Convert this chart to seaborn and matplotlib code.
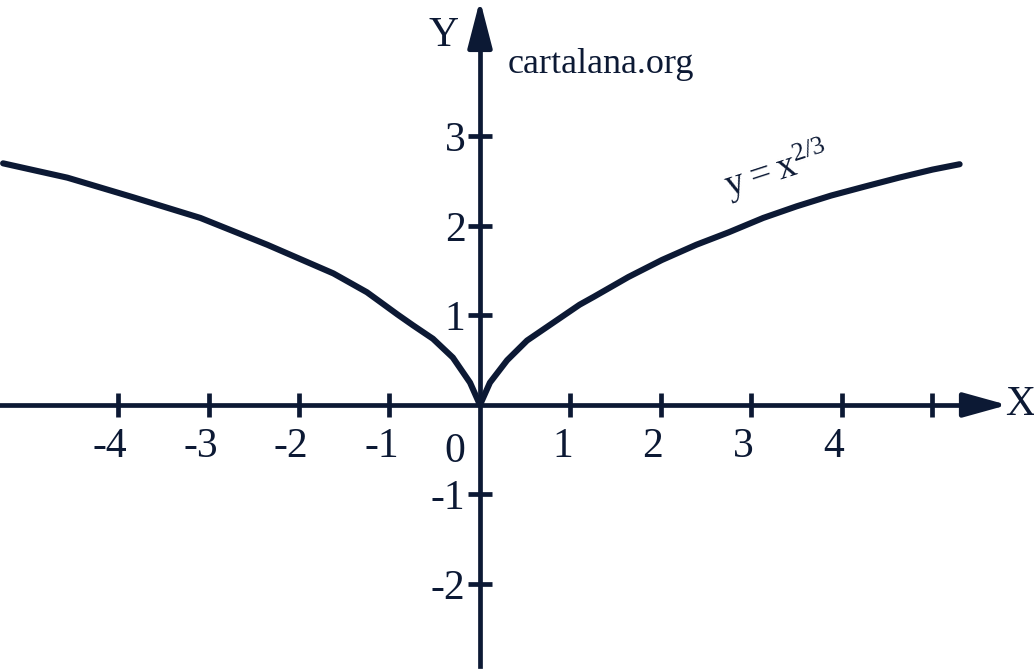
import matplotlib
matplotlib.use('Agg')
import matplotlib.pyplot as plt
import matplotlib.transforms as mtransforms
import seaborn as sns
import pandas as pd

# curve
curve_x = [-5.27, -4.56, -3.83, -3.09, -2.35, -1.62, -1.25, -1.10, -0.91, -0.74, -0.52,
           -0.30, -0.11, 0.0, 0.11, 0.30, 0.52, 0.81, 1.10, 1.26, 1.64, 2.01, 2.39, 2.75,
           3.13, 3.50, 3.88, 4.25, 4.63, 5.0, 5.30]
curve_y = [2.70, 2.54, 2.32, 2.09, 1.79, 1.47, 1.26, 1.15, 1.01, 0.89, 0.74,
           0.53, 0.25, 0.0, 0.25, 0.50, 0.72, 0.92, 1.12, 1.21, 1.43, 1.62, 1.79, 1.93,
           2.09, 2.22, 2.34, 2.44, 2.54, 2.63, 2.69]

x_ticks = [-4, -3, -2, -1, 1, 2, 3, 4, 5]
x_labels = ['-4', '-3', '-2', '-1', '1', '2', '3', '4', '']
y_ticks = [-2, -1, 1, 2, 3]
y_labels = ['-2', '-1', '1', '2', '3']

df = pd.DataFrame({'x': curve_x, 'y': curve_y})

sns.set_style('white')
plt.rcParams['font.family'] = ['Liberation Serif', 'DejaVu Serif']
plt.rcParams['mathtext.fontset'] = 'custom'
plt.rcParams['mathtext.rm'] = 'Liberation Serif'

c = '#0c1934'

fig = plt.figure(figsize=(10.34, 6.69), dpi=100)
ax = fig.add_axes([0, 0, 1, 1])
ax.set_xlim(-5.304, 6.122)
ax.set_ylim(-2.95, 4.525)

sns.lineplot(data=df, x='x', y='y', ax=ax, color=c, linewidth=4.4, sort=False)

# axes through the origin
for s in ['top', 'right']:
    ax.spines[s].set_visible(False)
ax.spines['left'].set_position(('data', 0))
ax.spines['bottom'].set_position(('data', 0))
for s in ['left', 'bottom']:
    ax.spines[s].set_color(c)
    ax.spines[s].set_linewidth(3.4)
ax.spines['bottom'].set_bounds(-5.304, 5.5)
ax.spines['left'].set_bounds(-2.92, 4.1)

ax.annotate('', xy=(5.83, 0), xytext=(5.4, 0),
            arrowprops=dict(arrowstyle='-|>,head_length=2.7,head_width=0.75',
                            color=c, lw=3.4, shrinkA=0, shrinkB=0))
ax.annotate('', xy=(0, 4.525), xytext=(0, 4.0),
            arrowprops=dict(arrowstyle='-|>,head_length=2.9,head_width=0.75',
                            color=c, lw=3.4, shrinkA=0, shrinkB=0))

ax.set_xticks(x_ticks, x_labels)
ax.set_yticks(y_ticks, y_labels)
ax.tick_params(axis='x', bottom=True, direction='inout', length=17, width=3.4, color=c,
               labelsize=30, labelcolor=c, pad=8)
ax.tick_params(axis='y', left=True, direction='inout', length=17, width=3.4, color=c,
               labelsize=30, labelcolor=c, pad=2)
shift = mtransforms.ScaledTranslation(-0.08, 0, fig.dpi_scale_trans)
for lab in ax.get_xticklabels():
    lab.set_transform(lab.get_transform() + shift)
ax.set_xlabel('')
ax.set_ylabel('')

ax.text(-0.28, -0.52, '0', fontsize=30, color=c, ha='center', va='center')
ax.text(-0.4, 4.13, 'Y', fontsize=30, color=c, ha='center', va='center')
ax.text(5.97, 0, 'X', fontsize=30, color=c, ha='center', va='center')
ax.text(0.3, 3.8, 'cartalana.org', fontsize=26, color=c, ha='left', va='center')
ax.text(3.28, 2.62, r'$\mathrm{y = x^{2/3}}$', fontsize=27, color=c,
        ha='center', va='center', rotation=18)

fig.savefig('out.png', dpi=100)
